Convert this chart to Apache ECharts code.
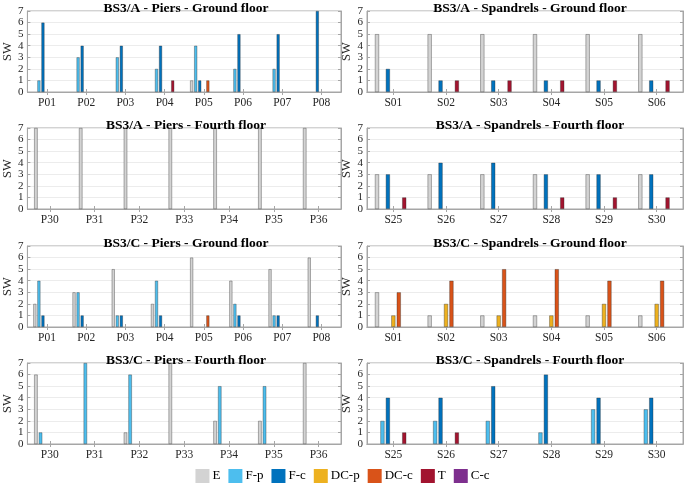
<!DOCTYPE html>
<html>
<head>
<meta charset="utf-8">
<script src="https://cdn.jsdelivr.net/npm/echarts@6/dist/echarts.min.js"></script>
<style>html,body{margin:0;padding:0;background:#fff;}#c{width:685px;height:491px;}</style>
</head>
<body>
<div id="c"></div>
<script>
// ---- categories ----
const piersGround = ['P01','P02','P03','P04','P05','P06','P07','P08'];
const spandrelsGround = ['S01','S02','S03','S04','S05','S06'];
const piersFourth = ['P30','P31','P32','P33','P34','P35','P36'];
const spandrelsFourth = ['S25','S26','S27','S28','S29','S30'];
const seriesNames = ['E','F-p','F-c','DC-p','DC-c','T','C-c'];
const yTicks = [0,1,2,3,4,5,6,7];

// ---- values (rows follow seriesNames order) ----
const A_piersGround = [
  [0,0,0,0,1,0,0,0], // E
  [1,3,3,2,4,2,2,0], // F-p
  [6,4,4,4,1,5,5,7], // F-c
  [0,0,0,0,0,0,0,0], // DC-p
  [0,0,0,0,1,0,0,0], // DC-c
  [0,0,0,1,0,0,0,0], // T
  [0,0,0,0,0,0,0,0]  // C-c
];
const A_spandrelsGround = [
  [5,5,5,5,5,5],
  [0,0,0,0,0,0],
  [2,1,1,1,1,1],
  [0,0,0,0,0,0],
  [0,0,0,0,0,0],
  [0,1,1,1,1,1],
  [0,0,0,0,0,0]
];
const A_piersFourth = [
  [7,7,7,7,7,7,7],
  [0,0,0,0,0,0,0],
  [0,0,0,0,0,0,0],
  [0,0,0,0,0,0,0],
  [0,0,0,0,0,0,0],
  [0,0,0,0,0,0,0],
  [0,0,0,0,0,0,0]
];
const A_spandrelsFourth = [
  [3,3,3,3,3,3],
  [0,0,0,0,0,0],
  [3,4,4,3,3,3],
  [0,0,0,0,0,0],
  [0,0,0,0,0,0],
  [1,0,0,1,1,1],
  [0,0,0,0,0,0]
];
const C_piersGround = [
  [2,3,5,2,6,4,5,6],
  [4,3,1,4,0,2,1,0],
  [1,1,1,1,0,1,1,1],
  [0,0,0,0,0,0,0,0],
  [0,0,0,0,1,0,0,0],
  [0,0,0,0,0,0,0,0],
  [0,0,0,0,0,0,0,0]
];
const C_spandrelsGround = [
  [3,1,1,1,1,1],
  [0,0,0,0,0,0],
  [0,0,0,0,0,0],
  [1,2,1,1,2,2],
  [3,4,5,5,4,4],
  [0,0,0,0,0,0],
  [0,0,0,0,0,0]
];
const C_piersFourth = [
  [6,0,1,7,2,2,7],
  [1,7,6,0,5,5,0],
  [0,0,0,0,0,0,0],
  [0,0,0,0,0,0,0],
  [0,0,0,0,0,0,0],
  [0,0,0,0,0,0,0],
  [0,0,0,0,0,0,0]
];
const C_spandrelsFourth = [
  [0,0,0,0,0,0],
  [2,2,2,1,3,3],
  [4,4,5,6,4,4],
  [0,0,0,0,0,0],
  [0,0,0,0,0,0],
  [1,1,0,0,0,0],
  [0,0,0,0,0,0]
];

const panels = [
  {title:'BS3/A - Piers - Ground floor', cats:piersGround, vals:A_piersGround},
  {title:'BS3/A - Spandrels - Ground floor', cats:spandrelsGround, vals:A_spandrelsGround},
  {title:'BS3/A - Piers - Fourth floor', cats:piersFourth, vals:A_piersFourth},
  {title:'BS3/A - Spandrels - Fourth floor', cats:spandrelsFourth, vals:A_spandrelsFourth},
  {title:'BS3/C - Piers - Ground floor', cats:piersGround, vals:C_piersGround},
  {title:'BS3/C - Spandrels - Ground floor', cats:spandrelsGround, vals:C_spandrelsGround},
  {title:'BS3/C - Piers - Fourth floor', cats:piersFourth, vals:C_piersFourth},
  {title:'BS3/C - Spandrels - Fourth floor', cats:spandrelsFourth, vals:C_spandrelsFourth}
];

const colors = ['#d3d3d3','#4dbeee','#0072bd','#edb120','#d95319','#a2142f','#7e2f8e'];
const FONT = '"Liberation Serif", "DejaVu Serif", serif';
const AX = '#a6a6a6';
const rowTops = [11, 128, 246, 363];
const plotH = 81;
const colLeft = [21, 367];
const colRight = [341, 683];

const grids = [], xAxes = [], yAxes = [], xAxes2 = [], yAxes2 = [], series = [], titles = [];
panels.forEach((p, i) => {
  const row = Math.floor(i / 2), col = i % 2;
  grids.push({
    left: colLeft[col], width: colRight[col] - colLeft[col],
    top: rowTops[row], height: plotH,
    show: true, borderColor: AX, borderWidth: 1, backgroundColor: '#fff'
  });
  titles.push({
    text: p.title, left: (colLeft[col] + colRight[col]) / 2, top: rowTops[row] - 14,
    textAlign: 'center',
    textStyle: {fontFamily: FONT, fontSize: 13.5, fontWeight: 'bold', color: '#000'}
  });
  xAxes.push({
    type: 'category', gridIndex: i, data: p.cats, position: 'bottom',
    axisLine: {show: true, lineStyle: {color: AX}},
    axisTick: {show: true, inside: true, alignWithLabel: true, length: 3, lineStyle: {color: AX}},
    axisLabel: {fontFamily: FONT, fontSize: 11.5, color: '#262626', margin: 5, interval: 0},
    splitLine: {show: false}
  });
  xAxes2.push({
    type: 'category', gridIndex: i, data: p.cats, position: 'top',
    axisLine: {show: true, lineStyle: {color: AX}},
    axisTick: {show: true, inside: true, alignWithLabel: true, length: 3, lineStyle: {color: AX}},
    axisLabel: {show: false}, splitLine: {show: false}
  });
  yAxes.push({
    type: 'value', gridIndex: i, min: 0, max: 7, interval: 1, position: 'left',
    name: 'SW', nameLocation: 'middle', nameGap: 11, nameRotate: 90,
    nameTextStyle: {fontFamily: FONT, fontSize: 12.5, color: '#262626'},
    axisLine: {show: true, lineStyle: {color: AX}},
    axisTick: {show: true, inside: true, length: 3, lineStyle: {color: AX}},
    axisLabel: {fontFamily: FONT, fontSize: 11, lineHeight: 11, color: '#262626', margin: 4,
      showMinLabel: true, showMaxLabel: true, hideOverlap: false,
      formatter: v => String(yTicks[yTicks.indexOf(v)])},
    splitLine: {show: true, lineStyle: {color: '#ececec', width: 1}}
  });
  yAxes2.push({
    type: 'value', gridIndex: i, min: 0, max: 7, interval: 1, position: 'right',
    axisLine: {show: true, lineStyle: {color: AX}},
    axisTick: {show: true, inside: true, length: 3, lineStyle: {color: AX}},
    axisLabel: {show: false}, splitLine: {show: false}
  });
  seriesNames.forEach((name, s) => {
    series.push({
      name: name, type: 'bar', xAxisIndex: i, yAxisIndex: i,
      data: p.vals[s].map(v => v === 0 ? '-' : v),
      barCategoryGap: '30%', barGap: '30%',
      itemStyle: {color: colors[s], borderColor: 'rgba(40,40,40,0.6)', borderWidth: 0.6},
      emphasis: {disabled: true}, animation: false
    });
  });
});

const chart = echarts.init(document.getElementById('c'), null, {renderer: 'canvas'});
chart.setOption({
  animation: false,
  color: colors,
  title: titles,
  grid: grids,
  xAxis: xAxes.concat(xAxes2),
  yAxis: yAxes.concat(yAxes2),
  series: series,
  legend: {
    data: seriesNames, bottom: 3, left: 'center',
    itemWidth: 14, itemHeight: 14, itemGap: 8,
    icon: 'rect',
    itemStyle: {borderWidth: 0},
    textStyle: {fontFamily: FONT, fontSize: 13, color: '#000', padding: [0,0,0,-2]}
  }
});
</script>
</body>
</html>
